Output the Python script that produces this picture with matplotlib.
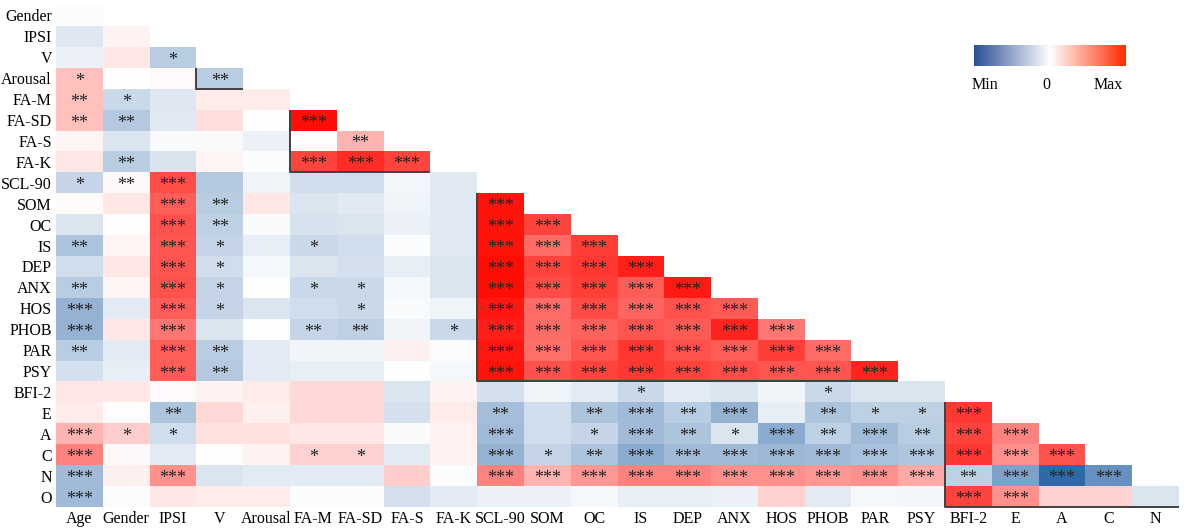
import numpy as np
import matplotlib
matplotlib.use("Agg")
import matplotlib.pyplot as plt
from matplotlib.colors import LinearSegmentedColormap

# ---------------- data ----------------
variables = ["Age", "Gender", "IPSI", "V", "Arousal", "FA-M", "FA-SD", "FA-S", "FA-K",
             "SCL-90", "SOM", "OC", "IS", "DEP", "ANX", "HOS", "PHOB", "PAR", "PSY",
             "BFI-2", "E", "A", "C", "N", "O"]
row_labels = variables[1:]
col_labels = variables[:-1]

# correlation values (lower triangle, one list per row)
r_Gender = [-0.02]
r_IPSI = [-0.14, 0.05]
r_V = [-0.08, 0.10, -0.30]
r_Arousal = [0.25, 0.00, 0.02, -0.30]
r_FAM = [0.25, -0.22, -0.14, 0.08, 0.08]
r_FASD = [0.25, -0.32, -0.13, 0.13, 0.00, 0.97]
r_FAS = [0.04, -0.15, -0.03, -0.03, -0.08, 0.00, 0.30]
r_FAK = [0.10, -0.30, -0.16, 0.04, -0.02, 0.75, 0.85, 0.75]
r_SCL90 = [-0.25, 0.03, 0.72, -0.32, -0.07, -0.20, -0.20, -0.05, -0.13]
r_SOM = [0.02, 0.10, 0.65, -0.30, 0.10, -0.15, -0.13, -0.07, -0.13, 0.95]
r_OC = [-0.15, 0.00, 0.70, -0.28, -0.03, -0.17, -0.15, -0.08, -0.13, 0.95, 0.75]
r_IS = [-0.35, 0.04, 0.68, -0.25, -0.10, -0.22, -0.20, -0.02, -0.13, 0.95, 0.60, 0.78]
r_DEP = [-0.20, 0.10, 0.68, -0.20, -0.04, -0.15, -0.18, -0.10, -0.15, 0.98, 0.75, 0.80, 0.90]
r_ANX = [-0.30, 0.04, 0.70, -0.25, 0.00, -0.22, -0.22, -0.04, -0.15, 0.97, 0.72, 0.78, 0.65, 0.92]
r_HOS = [-0.45, -0.12, 0.65, -0.25, -0.15, -0.20, -0.22, -0.03, -0.07, 0.93, 0.60, 0.72, 0.62, 0.70, 0.66]
r_PHOB = [-0.45, 0.10, 0.55, -0.15, -0.01, -0.25, -0.28, -0.06, -0.22, 0.90, 0.60, 0.64, 0.68, 0.66, 0.88, 0.55]
r_PAR = [-0.30, -0.12, 0.65, -0.30, -0.12, -0.06, -0.06, 0.06, -0.02, 0.93, 0.58, 0.68, 0.80, 0.70, 0.65, 0.78, 0.60]
r_PSY = [-0.18, -0.10, 0.65, -0.32, -0.12, -0.10, -0.10, 0.00, -0.04, 0.95, 0.70, 0.75, 0.80, 0.75, 0.72, 0.68, 0.68, 0.88]
r_BFI2 = [0.10, 0.10, 0.02, 0.05, 0.08, 0.15, 0.15, -0.15, 0.05, -0.18, -0.07, -0.12, -0.22, -0.12,
          -0.15, -0.06, -0.22, -0.15, -0.15]
r_E = [0.08, 0.01, -0.35, 0.15, 0.06, 0.15, 0.15, -0.18, 0.08, -0.38, -0.20, -0.35, -0.40, -0.30,
       -0.45, -0.10, -0.35, -0.28, -0.28, 0.80]
r_A = [0.30, 0.20, -0.20, 0.12, 0.12, 0.10, 0.10, -0.03, 0.05, -0.40, -0.20, -0.25, -0.40, -0.35,
       -0.15, -0.50, -0.28, -0.40, -0.30, 0.75, 0.50]
r_C = [0.50, 0.03, -0.12, 0.01, 0.05, 0.18, 0.18, -0.12, 0.05, -0.45, -0.25, -0.35, -0.50, -0.40,
       -0.40, -0.42, -0.40, -0.36, -0.34, 0.80, 0.45, 0.70]
r_N = [-0.40, 0.06, 0.45, -0.15, -0.12, -0.12, -0.12, 0.20, -0.02, 0.50, 0.30, 0.42, 0.50, 0.50,
       0.45, 0.45, 0.42, 0.45, 0.35, -0.28, -0.55, -0.88, -0.65]
r_O = [-0.40, -0.02, 0.10, 0.08, 0.08, -0.02, -0.02, -0.18, -0.12, -0.08, -0.08, -0.04, -0.10, -0.10,
       -0.08, 0.18, -0.12, -0.04, -0.05, 0.75, 0.45, 0.18, 0.18, -0.15]

# significance stars (number of asterisks, one list per row)
s_Gender = [0]
s_IPSI = [0, 0]
s_V = [0, 0, 1]
s_Arousal = [1, 0, 0, 2]
s_FAM = [2, 1, 0, 0, 0]
s_FASD = [2, 2, 0, 0, 0, 3]
s_FAS = [0, 0, 0, 0, 0, 0, 2]
s_FAK = [0, 2, 0, 0, 0, 3, 3, 3]
s_SCL90 = [1, 2, 3, 0, 0, 0, 0, 0, 0]
s_SOM = [0, 0, 3, 2, 0, 0, 0, 0, 0, 3]
s_OC = [0, 0, 3, 2, 0, 0, 0, 0, 0, 3, 3]
s_IS = [2, 0, 3, 1, 0, 1, 0, 0, 0, 3, 3, 3]
s_DEP = [0, 0, 3, 1, 0, 0, 0, 0, 0, 3, 3, 3, 3]
s_ANX = [2, 0, 3, 1, 0, 1, 1, 0, 0, 3, 3, 3, 3, 3]
s_HOS = [3, 0, 3, 1, 0, 0, 1, 0, 0, 3, 3, 3, 3, 3, 3]
s_PHOB = [3, 0, 3, 0, 0, 2, 2, 0, 1, 3, 3, 3, 3, 3, 3, 3]
s_PAR = [2, 0, 3, 2, 0, 0, 0, 0, 0, 3, 3, 3, 3, 3, 3, 3, 3]
s_PSY = [0, 0, 3, 2, 0, 0, 0, 0, 0, 3, 3, 3, 3, 3, 3, 3, 3, 3]
s_BFI2 = [0, 0, 0, 0, 0, 0, 0, 0, 0, 0, 0, 0, 1, 0, 0, 0, 1, 0, 0]
s_E = [0, 0, 2, 0, 0, 0, 0, 0, 0, 2, 0, 2, 3, 2, 3, 0, 2, 1, 1, 3]
s_A = [3, 1, 1, 0, 0, 0, 0, 0, 0, 3, 0, 1, 3, 2, 1, 3, 2, 3, 2, 3, 3]
s_C = [3, 0, 0, 0, 0, 1, 1, 0, 0, 3, 1, 2, 3, 3, 3, 3, 3, 3, 3, 3, 3, 3]
s_N = [3, 0, 3, 0, 0, 0, 0, 0, 0, 3, 3, 3, 3, 3, 3, 3, 3, 3, 3, 2, 3, 3, 3]
s_O = [3, 0, 0, 0, 0, 0, 0, 0, 0, 0, 0, 0, 0, 0, 0, 0, 0, 0, 0, 3, 3, 0, 0, 0]

# variable blocks outlined (first, last variable)
blocks = [("V", "Arousal"), ("FA-M", "FA-K"), ("SCL-90", "PSY"), ("BFI-2", "O")]

value_rows = [r_Gender, r_IPSI, r_V, r_Arousal, r_FAM, r_FASD, r_FAS, r_FAK, r_SCL90, r_SOM,
              r_OC, r_IS, r_DEP, r_ANX, r_HOS, r_PHOB, r_PAR, r_PSY, r_BFI2, r_E, r_A, r_C, r_N, r_O]
star_rows = [s_Gender, s_IPSI, s_V, s_Arousal, s_FAM, s_FASD, s_FAS, s_FAK, s_SCL90, s_SOM,
             s_OC, s_IS, s_DEP, s_ANX, s_HOS, s_PHOB, s_PAR, s_PSY, s_BFI2, s_E, s_A, s_C, s_N, s_O]

# ---------------- figure ----------------
W, H = 1185, 531
fig = plt.figure(figsize=(W / 100, H / 100), dpi=100)
fig.patch.set_facecolor("white")

cmap = LinearSegmentedColormap.from_list(
    "bwr_custom", [(0.0, "#14559e"), (0.5, "#ffffff"), (1.0, "#ff0800")])
bar_cmap = LinearSegmentedColormap.from_list(
    "bar_custom", [(0.0, "#2b4f97"), (0.5, "#ffffff"), (1.0, "#ff2a00")])

n_r = len(row_labels)
n_c = len(col_labels)
M = np.full((n_r, n_c), np.nan)
for i, vals in enumerate(value_rows):
    M[i, :len(vals)] = vals
Mm = np.ma.masked_invalid(M)

ax_l, ax_t, ax_r, ax_b = 56, 5, 1179, 507
ax = fig.add_axes([ax_l / W, 1 - ax_b / H, (ax_r - ax_l) / W, (ax_b - ax_t) / H])
ax.pcolormesh(np.arange(n_c + 1), np.arange(n_r + 1), Mm, cmap=cmap, vmin=-1, vmax=1,
              shading="flat")
ax.set_xlim(0, n_c)
ax.set_ylim(n_r, 0)
for sp in ax.spines.values():
    sp.set_visible(False)

serif = ["Liberation Serif", "DejaVu Serif"]
ax.set_xticks(np.arange(n_c) + 0.5)
ax.set_xticklabels(col_labels, fontsize=11.5, family=serif)
ax.set_yticks(np.arange(n_r) + 0.5)
ax.set_yticklabels(row_labels, fontsize=11.5, family=serif)
ax.tick_params(length=0, pad=3)

for i, stars in enumerate(star_rows):
    for j, s in enumerate(stars):
        if s > 0:
            ax.text(j + 0.5, i + 0.5 + 0.36, "*" * s, ha="center", va="baseline",
                    fontsize=13, color="#222222", family=serif)

for a, b in blocks:
    ia = variables.index(a)
    ib = variables.index(b)
    ax.plot([ia, ia, ib], [ia, ib, ib], color="#404040", lw=1.4, solid_capstyle="butt",
            clip_on=False, zorder=5)

# colour bar legend
cax = fig.add_axes([974 / W, 1 - 66 / H, 152 / W, 21 / H])
cax.imshow(np.linspace(-1, 1, 256)[None, :], aspect="auto", cmap=bar_cmap, vmin=-1, vmax=1)
cax.axis("off")
for txt, xp in [("Min", 985), ("0", 1046), ("Max", 1108)]:
    fig.text(xp / W, 1 - 85 / H, txt, ha="center", va="center", fontsize=11.5, family=serif)

fig.savefig("out.png", dpi=100)
